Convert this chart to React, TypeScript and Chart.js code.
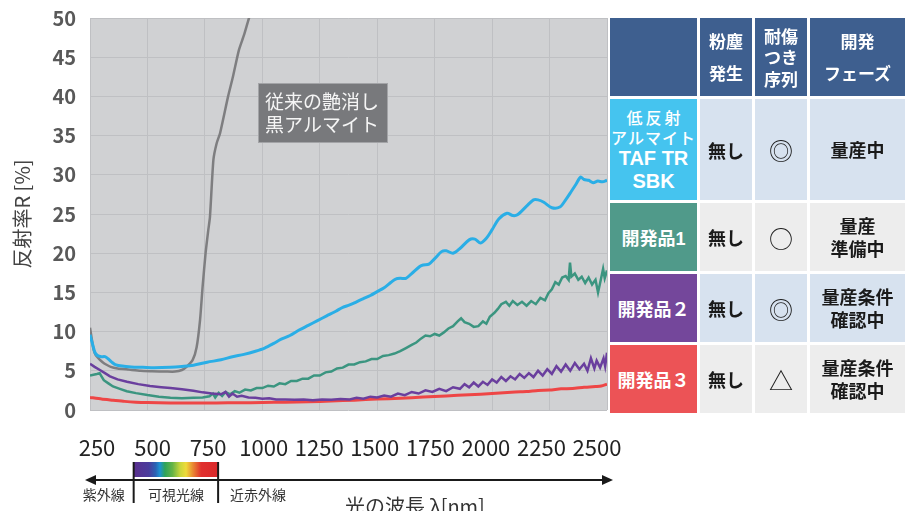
import { useEffect, useRef } from "react";
import { Chart, registerables } from "chart.js";

Chart.register(...registerables);

const FONT = "'Noto Sans CJK JP', 'Noto Sans', sans-serif";

// ---- data ----
const xMin = 250;
const xMax = 2500;
const xStep = 250;
const xTickLabels = [250, 500, 750, 1000, 1250, 1500, 1750, 2000, 2250, 2500];
// label axis range (the printed wavelength labels are slightly narrower than the grid)
const xLabelMin = 218.5;
const xLabelMax = 2545;
const yMin = 0;
const yMax = 50;
const yStep = 5;

const yTitle = "反射率R [%]";
const xTitle = "光の波長 λ[nm]";
const bandLabels = ["紫外線", "可視光線", "近赤外線"];
const visibleBand = [415, 795];

const noteAnchor = [980, 41.7];
const noteLines = ["従来の艶消し", "黒アルマイト"];

const seriesTAF: [number, number][] = [
  [250, 9.6], [262, 8.3], [272, 7.3], [285, 6.9], [300, 6.8], [315, 6.8], [330, 6.5], [345, 6.1],
  [360, 5.8], [390, 5.6], [430, 5.5], [480, 5.45], [530, 5.4], [600, 5.45], [650, 5.55], [700, 5.7],
  [760, 6.1], [820, 6.4], [870, 6.8], [920, 7.1], [970, 7.5], [1010, 7.9], [1050, 8.5], [1080, 9.0],
  [1120, 9.5], [1160, 10.2], [1200, 10.8], [1240, 11.4], [1280, 12.0], [1320, 12.6], [1350, 13.1],
  [1380, 13.4], [1410, 13.8], [1440, 14.2], [1470, 14.6], [1500, 15.1], [1530, 15.6], [1560, 16.3],
  [1580, 16.7], [1600, 16.8], [1625, 16.8], [1650, 17.4], [1685, 18.3], [1700, 18.5], [1725, 18.6],
  [1750, 19.3], [1780, 20.2], [1800, 20.3], [1830, 20.0], [1860, 20.6], [1900, 21.7], [1925, 21.8],
  [1950, 21.3], [1975, 21.9], [2000, 23.0], [2030, 24.4], [2065, 25.1], [2090, 24.8], [2110, 24.9],
  [2150, 26.0], [2180, 26.8], [2200, 26.8], [2225, 26.5], [2260, 25.8], [2295, 25.9], [2320, 26.8],
  [2345, 27.9], [2365, 28.8], [2385, 29.7], [2400, 29.4], [2420, 29.3], [2440, 29.0], [2460, 29.2],
  [2480, 29.1], [2500, 29.3],
];

const seriesConventional: [number, number][] = [
  [250, 10.5], [258, 9.0], [265, 7.8], [275, 7.0], [290, 6.5], [305, 6.1], [320, 5.8], [340, 5.5],
  [370, 5.3], [420, 5.15], [470, 5.0], [520, 4.95], [584, 4.9], [620, 4.9], [650, 5.1], [670, 5.5],
  [697, 6.4], [714, 8.0], [729, 11.5], [740, 15.7], [753, 20.0], [765, 23.0], [772, 24.6], [787, 31.9],
  [801, 34.0], [816, 35.3], [851, 40.0], [872, 42.5], [898, 45.9], [920, 47.8], [942, 50.0], [960, 51.5],
];

const seriesDev1: [number, number][] = [
  [250, 4.4], [265, 4.5], [280, 4.6], [292, 4.7], [300, 4.3], [310, 3.8], [330, 3.4], [350, 3.0],
  [380, 2.7], [410, 2.4], [450, 2.15], [500, 1.9], [550, 1.7], [600, 1.55], [650, 1.5], [700, 1.55],
  [740, 1.6], [770, 1.75], [785, 2.1], [795, 1.6], [810, 2.2], [825, 1.8], [840, 2.3], [860, 2.0],
  [880, 2.4], [900, 2.2], [925, 2.6], [950, 2.5], [975, 2.8], [1000, 2.8], [1025, 3.1], [1050, 3.0],
  [1075, 3.4], [1100, 3.3], [1125, 3.7], [1150, 3.7], [1175, 4.0], [1200, 4.0], [1225, 4.4],
  [1250, 4.4], [1275, 4.8], [1300, 4.9], [1325, 5.3], [1350, 5.4], [1375, 5.8], [1400, 5.8],
  [1425, 6.1], [1450, 6.2], [1475, 6.5], [1500, 6.5], [1525, 6.9], [1550, 7.0], [1575, 7.2],
  [1600, 7.5], [1625, 7.9], [1650, 8.3], [1670, 8.6], [1690, 9.1], [1710, 9.5], [1730, 9.4],
  [1750, 9.7], [1770, 9.5], [1790, 9.9], [1810, 10.4], [1830, 10.7], [1850, 11.3], [1865, 11.7],
  [1880, 11.2], [1900, 11.0], [1920, 10.6], [1940, 10.7], [1960, 11.3], [1975, 11.0], [1990, 11.9],
  [2010, 12.4], [2025, 12.9], [2040, 13.5], [2060, 13.8], [2075, 13.3], [2090, 13.9], [2110, 13.4],
  [2130, 13.8], [2150, 13.3], [2170, 13.9], [2190, 13.5], [2210, 14.3], [2230, 14.0], [2245, 14.9],
  [2260, 15.4], [2275, 16.3], [2290, 16.0], [2305, 16.9], [2320, 17.1], [2333, 16.6], [2339, 18.8],
  [2345, 17.0], [2360, 17.4], [2375, 16.6], [2390, 17.0], [2405, 16.2], [2420, 16.9], [2435, 16.0],
  [2450, 16.6], [2461, 15.0], [2470, 16.2], [2483, 18.0], [2490, 16.8], [2500, 17.8],
];

const seriesDev2: [number, number][] = [
  [250, 5.9], [270, 5.5], [293, 5.1], [315, 4.7], [337, 4.3], [370, 3.9], [411, 3.6], [460, 3.3],
  [511, 3.05], [560, 2.9], [600, 2.8], [650, 2.65], [700, 2.45], [740, 2.25], [780, 2.1], [820, 2.0],
  [840, 2.3], [855, 1.7], [870, 2.1], [890, 1.7], [910, 1.8], [940, 1.6], [970, 1.55], [1000, 1.45],
  [1030, 1.5], [1060, 1.35], [1100, 1.35], [1140, 1.3], [1180, 1.35], [1220, 1.25], [1260, 1.35],
  [1300, 1.3], [1340, 1.4], [1380, 1.35], [1410, 1.55], [1440, 1.45], [1470, 1.7], [1500, 1.6],
  [1530, 1.85], [1560, 1.7], [1590, 2.1], [1620, 1.9], [1650, 2.3], [1680, 2.1], [1710, 2.5],
  [1740, 2.3], [1770, 2.7], [1800, 2.4], [1830, 2.9], [1860, 2.7], [1880, 3.3], [1900, 2.9],
  [1920, 3.5], [1940, 3.0], [1960, 3.6], [1980, 3.2], [2000, 3.9], [2020, 3.5], [2040, 4.2],
  [2060, 3.7], [2080, 4.3], [2100, 3.9], [2120, 4.6], [2140, 4.1], [2160, 4.7], [2180, 4.2],
  [2200, 5.0], [2220, 4.4], [2240, 5.2], [2260, 4.6], [2280, 5.6], [2300, 4.9], [2320, 5.8],
  [2340, 5.0], [2360, 6.0], [2380, 5.2], [2400, 5.9], [2415, 5.0], [2430, 6.6], [2445, 5.3],
  [2455, 6.3], [2470, 5.4], [2485, 6.6], [2492, 5.6], [2500, 7.3],
];

const seriesDev3: [number, number][] = [
  [250, 1.6], [300, 1.4], [350, 1.25], [400, 1.1], [450, 1.0], [500, 0.95], [600, 0.9], [700, 0.9],
  [800, 0.9], [900, 0.92], [1000, 0.95], [1100, 1.0], [1200, 1.05], [1300, 1.15], [1400, 1.25],
  [1500, 1.4], [1600, 1.5], [1700, 1.65], [1800, 1.8], [1900, 1.95], [2000, 2.1], [2100, 2.3],
  [2150, 2.35], [2200, 2.5], [2250, 2.55], [2300, 2.7], [2350, 2.75], [2400, 2.9], [2450, 3.0],
  [2475, 3.05], [2500, 3.3],
];

// ---- table data ----
const tableHeader = ["", "粉塵\n発生", "耐傷\nつき\n序列", "開発\nフェーズ"];
const rowNames = ["低反射\nアルマイト\nTAF TR\nSBK", "開発品1", "開発品２", "開発品３"];
const dustValues = ["無し", "無し", "無し", "無し"];
const scratchValues = ["◎", "○", "◎", "△"];
const phaseValues = ["量産中", "量産\n準備中", "量産条件\n確認中", "量産条件\n確認中"];

const seriesColors = ["#2aaee6", "#6a3f9e", "#3b9580", "#ee4646", "#7e7e80"];
const rowColors = ["#45c4ef", "#509a8a", "#74479b", "#ec5356"];
const rowCellColors = ["#d7e2ef", "#ededed", "#d7e2ef", "#ededed"];
const headerColor = "#3e5f8f";
const PLOT_BG = "#d0d1d3";
const GRID = "#bfc0c3";

const toXY = (s: [number, number][]) => s.map(([x, y]) => ({ x, y }));

const decorPlugin = {
  id: "decor",
  beforeDraw(chart: any) {
    const { ctx, chartArea: a } = chart;
    ctx.save();
    ctx.fillStyle = PLOT_BG;
    ctx.fillRect(a.left, a.top, a.right - a.left, a.bottom - a.top);
    ctx.restore();
  },
  afterDraw(chart: any) {
    const { ctx, chartArea: a, scales } = chart;
    const x = scales.x;
    const y = scales.y;
    const xl = scales.xl;
    ctx.save();
    // annotation box
    const bx = Math.round(x.getPixelForValue(noteAnchor[0]));
    const by = Math.round(y.getPixelForValue(noteAnchor[1]));
    ctx.font = `19px ${FONT}`;
    const w = Math.max(...noteLines.map((t) => ctx.measureText(t).width)) + 16;
    const h = 60;
    ctx.fillStyle = "#78797c";
    ctx.fillRect(bx, by, w, h);
    ctx.strokeStyle = "#a3a4a7";
    ctx.lineWidth = 1;
    ctx.strokeRect(bx + 0.5, by + 0.5, w - 1, h - 1);
    ctx.fillStyle = "#f5f5f5";
    ctx.textBaseline = "middle";
    ctx.textAlign = "left";
    noteLines.forEach((t, i) => ctx.fillText(t, bx + 7, by + 19 + i * 23));

    // spectrum band
    const base = a.bottom;
    const v0 = xl.getPixelForValue(visibleBand[0]);
    const v1 = xl.getPixelForValue(visibleBand[1]);
    const g = ctx.createLinearGradient(v0, 0, v1, 0);
    g.addColorStop(0, "#5a2f8e");
    g.addColorStop(0.18, "#4a3c9c");
    g.addColorStop(0.26, "#2a62b4");
    g.addColorStop(0.31, "#1d92d2");
    g.addColorStop(0.37, "#2ea35a");
    g.addColorStop(0.46, "#66b446");
    g.addColorStop(0.55, "#c9d63c");
    g.addColorStop(0.62, "#eedb3a");
    g.addColorStop(0.7, "#e98a33");
    g.addColorStop(0.8, "#e0302e");
    g.addColorStop(1, "#d9282a");
    ctx.fillStyle = g;
    ctx.fillRect(v0, base + 52, v1 - v0, 15);

    // arrow
    const ay = base + 70;
    const l = a.left - 5;
    const r = a.right + 6;
    ctx.strokeStyle = "#1a1a1a";
    ctx.fillStyle = "#1a1a1a";
    ctx.lineWidth = 2;
    ctx.beginPath();
    ctx.moveTo(l + 8, ay);
    ctx.lineTo(r - 8, ay);
    ctx.stroke();
    ctx.beginPath();
    ctx.moveTo(l, ay);
    ctx.lineTo(l + 11, ay - 5);
    ctx.lineTo(l + 11, ay + 5);
    ctx.closePath();
    ctx.fill();
    ctx.beginPath();
    ctx.moveTo(r, ay);
    ctx.lineTo(r - 11, ay - 5);
    ctx.lineTo(r - 11, ay + 5);
    ctx.closePath();
    ctx.fill();
    // dividers
    [v0, v1].forEach((vx) => {
      ctx.beginPath();
      ctx.moveTo(vx, base + 52);
      ctx.lineTo(vx, base + 93);
      ctx.stroke();
    });
    // band labels
    ctx.font = `14px ${FONT}`;
    ctx.fillStyle = "#333";
    ctx.textBaseline = "middle";
    ctx.textAlign = "right";
    ctx.fillText(bandLabels[0], v0 - 9, base + 85);
    ctx.textAlign = "center";
    ctx.fillText(bandLabels[1], (v0 + v1) / 2, base + 85);
    ctx.textAlign = "left";
    ctx.fillText(bandLabels[2], v1 + 12, base + 85);
    // axis title
    ctx.font = `20px ${FONT}`;
    ctx.fillStyle = "#333";
    ctx.textAlign = "center";
    ctx.textBaseline = "alphabetic";
    ctx.fillText(xTitle, a.left + 325, base + 104);
    ctx.restore();
  },
};

function ChartCanvas() {
  const ref = useRef<HTMLCanvasElement | null>(null);
  useEffect(() => {
    if (!ref.current) return;
    const chart = new Chart(ref.current, {
      type: "line",
      data: {
        datasets: [
          { label: "TAF TR SBK", data: toXY(seriesTAF), borderColor: seriesColors[0], borderWidth: 3, tension: 0.3 },
          { label: "開発品２", data: toXY(seriesDev2), borderColor: seriesColors[1], borderWidth: 2.5, tension: 0 },
          { label: "開発品1", data: toXY(seriesDev1), borderColor: seriesColors[2], borderWidth: 2.5, tension: 0 },
          { label: "開発品３", data: toXY(seriesDev3), borderColor: seriesColors[3], borderWidth: 3, tension: 0.2 },
          { label: "従来の艶消し黒アルマイト", data: toXY(seriesConventional), borderColor: seriesColors[4], borderWidth: 2.5, tension: 0.2 },
        ],
      },
      options: {
        animation: false,
        responsive: false,
        events: [],
        elements: { point: { radius: 0 } },
        layout: { padding: { left: 0, top: 18, right: 301, bottom: 0 } },
        plugins: { legend: { display: false }, tooltip: { enabled: false } },
        scales: {
          x: {
            type: "linear",
            min: xMin,
            max: xMax,
            weight: 0,
            ticks: { display: false, stepSize: xStep },
            grid: { color: GRID, lineWidth: 1, drawTicks: false },
            border: { display: false },
            afterFit: (s: any) => { s.height = 0; s.paddingLeft = 0; s.paddingRight = 0; },
          },
          xl: {
            type: "linear",
            position: "bottom",
            min: xLabelMin,
            max: xLabelMax,
            weight: 1,
            afterBuildTicks: (s: any) => { s.ticks = xTickLabels.map((v) => ({ value: v })); },
            ticks: {
              autoSkip: false,
              maxRotation: 0,
              minRotation: 0,
              padding: 24,
              color: "#222",
              font: { family: FONT, size: 22, weight: "400" },
              callback: (v: any) => String(v),
            },
            grid: { display: false, drawTicks: false },
            border: { display: false },
            afterFit: (s: any) => { s.height = 101; s.paddingLeft = 0; s.paddingRight = 0; },
          },
          y: {
            min: yMin,
            max: yMax,
            ticks: { stepSize: yStep, padding: 14, color: "#595959", font: { family: FONT, size: 20, weight: "bold" } },
            grid: { color: GRID, lineWidth: 1, drawTicks: false },
            border: { display: false },
            title: { display: true, text: yTitle, color: "#444", padding: { top: 10, bottom: 0 }, font: { family: FONT, size: 20 } },
            afterFit: (s: any) => { s.width = 90; s.paddingTop = 0; s.paddingBottom = 0; },
          },
        },
      },
      plugins: [decorPlugin],
    } as any);
    return () => chart.destroy();
  }, []);
  return <canvas ref={ref} width={908} height={511} style={{ position: "absolute", left: 0, top: 0, width: 908, height: 511 }} />;
}

function Cell(props: { left: number; top: number; width: number; height: number; bg: string; children?: any; style?: any }) {
  return (
    <div
      style={{
        position: "absolute",
        left: props.left,
        top: props.top,
        width: props.width,
        height: props.height,
        background: props.bg,
        display: "flex",
        flexDirection: "column",
        alignItems: "center",
        justifyContent: "center",
        textAlign: "center",
        whiteSpace: "pre",
        fontFamily: FONT,
        ...props.style,
      }}
    >
      {props.children}
    </div>
  );
}

function Table() {
  const colX = [610, 700, 755, 810];
  const colW = [87, 52, 52, 95];
  const rowY = [18, 99, 203, 274, 345];
  const rowH = [78, 101, 68, 68, 68];
  const cells: any[] = [];
  const headerLH = [0, 32, 21.5, 32];
  tableHeader.forEach((t, c) => {
    cells.push(
      <Cell key={`h${c}`} left={colX[c]} top={rowY[0]} width={colW[c]} height={rowH[0]} bg={headerColor}
        style={{ color: "#fff", fontSize: 17, fontWeight: 700, lineHeight: `${headerLH[c]}px` }}>
        {t}
      </Cell>
    );
  });
  rowNames.forEach((name, r) => {
    const top = rowY[r + 1];
    const h = rowH[r + 1];
    let nameNode: any = name;
    if (r === 0) {
      const parts = name.split("\n");
      nameNode = (
        <>
          <div style={{ fontSize: 16, fontWeight: 500, letterSpacing: 3, lineHeight: "20px", marginLeft: 3 }}>{parts[0]}</div>
          <div style={{ fontSize: 16, fontWeight: 500, letterSpacing: 1, lineHeight: "20px" }}>{parts[1]}</div>
          <div style={{ fontSize: 20, fontWeight: 700, lineHeight: "23px", fontFamily: "'Liberation Sans', " + FONT }}>{parts[2]}</div>
          <div style={{ fontSize: 20, fontWeight: 700, lineHeight: "23px", fontFamily: "'Liberation Sans', " + FONT }}>{parts[3]}</div>
        </>
      );
    }
    cells.push(
      <Cell key={`n${r}`} left={colX[0]} top={top} width={colW[0]} height={h} bg={rowColors[r]}
        style={{ color: "#fff", fontSize: 18, fontWeight: 700, fontFamily: r === 0 ? FONT : "'Liberation Sans', " + FONT }}>
        {nameNode}
      </Cell>
    );
    cells.push(
      <Cell key={`d${r}`} left={colX[1]} top={top} width={colW[1]} height={h} bg={rowCellColors[r]}
        style={{ color: "#1a1a1a", fontSize: 18, fontWeight: 700 }}>
        {dustValues[r]}
      </Cell>
    );
    cells.push(
      <Cell key={`s${r}`} left={colX[2]} top={top} width={colW[2]} height={h} bg={rowCellColors[r]}
        style={{ color: "#1a1a1a", fontSize: 24, fontWeight: 400 }}>
        {scratchValues[r]}
      </Cell>
    );
    cells.push(
      <Cell key={`p${r}`} left={colX[3]} top={top} width={colW[3]} height={h} bg={rowCellColors[r]}
        style={{ color: "#1a1a1a", fontSize: 18, fontWeight: 700, lineHeight: "23px" }}>
        {phaseValues[r]}
      </Cell>
    );
  });
  return <>{cells}</>;
}

export default function App() {
  return (
    <div style={{ position: "fixed", left: 0, top: 0, width: 908, height: 511, background: "#fff", overflow: "hidden" }}>
      <ChartCanvas />
      <Table />
    </div>
  );
}
